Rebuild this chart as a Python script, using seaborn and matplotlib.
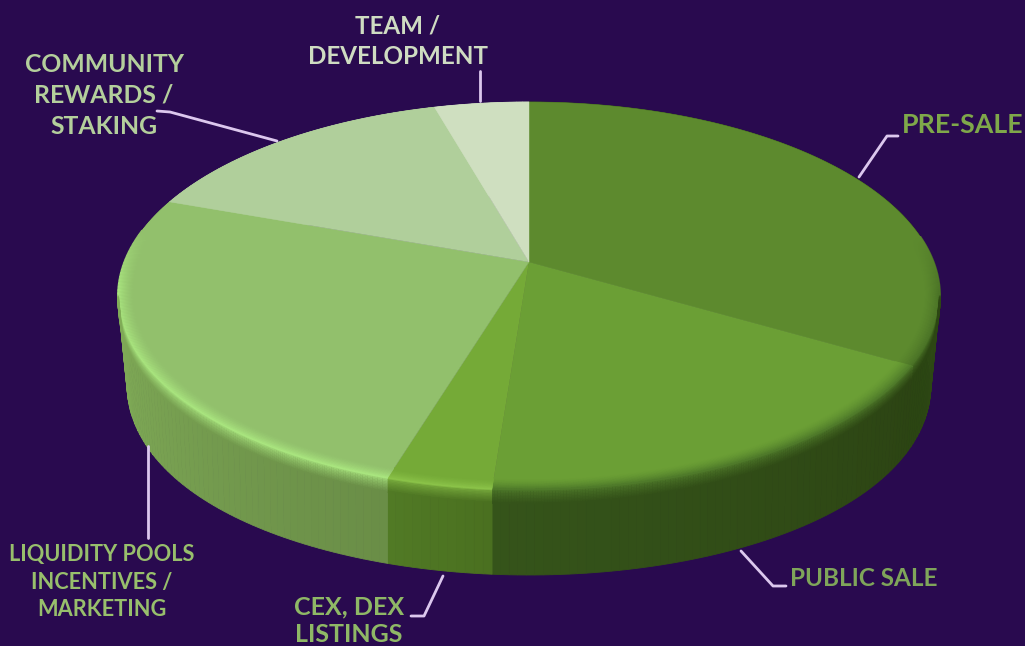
import numpy as np
import seaborn as sns
import matplotlib
matplotlib.use('Agg')
import matplotlib.pyplot as plt
from matplotlib.collections import LineCollection
from matplotlib.colors import to_rgb

# slice shares, clockwise from the top
categories = ['PRE-SALE', 'PUBLIC SALE', 'CEX, DEX LISTINGS', 'LIQUIDITY POOLS', 'COMMUNITY', 'TEAM']
shares = [33.4, 17.8, 3.5, 25.8, 15.1, 4.4]

face_colors = ['#5d8a2e', '#6b9f35', '#75aa37', '#92c06c', '#b0cf9b', '#cfdfc0']
wall_from = ['#2b4512', '#35541a', '#517a25', '#8cbb60', '#b0cf9b', '#cfdfc0']
wall_to = ['#33521a', '#2c4413', '#4a7020', '#6a8e47', '#b0cf9b', '#cfdfc0']
rim_colors = ['#4a7226', '#4f7a2a', '#8cc44a', '#a9e57f', None, None]

label_lines = [
    ['TEAM /', 'DEVELOPMENT'],
    ['COMMUNITY', 'REWARDS /', 'STAKING'],
    ['LIQUIDITY POOLS', 'INCENTIVES /', 'MARKETING'],
    ['CEX, DEX', 'LISTINGS'],
]
label_xy = [(398, [26, 56]), (104, [64, 95, 127]), (102, [554, 582, 610]), (349, [607, 635])]
label_colors = ['#cfdcc2', '#b4cf9c', '#98bf6c', '#8fb866']
label_sizes = [17.4, 17.8, 15.7, 18]

leaders = [
    [(480, 71), (480, 101)],
    [(157, 111), (170, 112), (277, 141)],
    [(859, 177), (887, 136), (898, 136)],
    [(741, 551), (773, 586), (786, 586)],
    [(443, 576), (424, 616), (411, 616)],
    [(148, 446), (148, 538)],
]

BG = '#290a4f'
K, B, A = 0.1753, 142.1, 404.6


def top_point(theta, r=1.0):
    # perspective view of the pie disc
    t = np.radians(theta)
    w = 1 + K * r * np.sin(t)
    return 529 + A * r * np.cos(t) / w, (262 - B * r * np.sin(t)) / w


def wall_point(theta, h):
    x, y = top_point(theta)
    # lower rim narrows at the sides only, slice edges stay upright at the front
    s = 1 - 0.022 * (np.abs(x - 529) / 411) ** 4
    bx = 529 + (x - 529) * s
    by = 385 + (y - 296) * 190 / 194
    return x + (bx - x) * h, y + (by - y) * h


sns.set_theme(style='white')
plt.rcParams['font.family'] = ['Lato', 'DejaVu Sans']

fig = plt.figure(figsize=(10.25, 6.46), dpi=100, facecolor=BG)
ax = fig.add_axes([0, 0, 1, 1])

wedges, _ = ax.pie(shares, startangle=90, counterclock=False, colors=face_colors)
ax.set_aspect('auto')
ax.set_xlim(0, 1025)
ax.set_ylim(646, 0)
ax.set_facecolor(BG)
ax.axis('off')

spans = []
for w in wedges:
    spans.append((w.theta1, w.theta2))
    w.set_visible(False)

# side walls, cut in narrow strips so the shade can run along the arc
for i, (t1, t2) in enumerate(spans):
    n = max(int(t2 - t1), 2)
    pal = sns.blend_palette([wall_from[i], wall_to[i]], n_colors=n)
    edges = np.linspace(t1, t2, n + 1)
    for j in range(n):
        th = np.linspace(edges[j], edges[j + 1], 4)
        xa, ya = wall_point(th, 0)
        xb, yb = wall_point(th[::-1], 1)
        ax.fill(np.r_[xa, xb], np.r_[ya, yb], color=pal[j], lw=0.6, zorder=2)

# top face
for i, (t1, t2) in enumerate(spans):
    th = np.linspace(t1, t2, 200)
    x, y = top_point(th)
    cx, cy = top_point(0, 0)
    ax.fill(np.r_[cx, x], np.r_[cy, y], color=face_colors[i], lw=0.3, zorder=3)


def add_band(x, y, cols):
    pts = np.column_stack([x, y]).reshape(-1, 1, 2)
    segs = np.concatenate([pts[:-1], pts[1:]], axis=1)
    ax.add_collection(LineCollection(segs, colors=cols, linewidths=1.4, zorder=4))


# soft bevel between face and wall, the wall part stops at the widest
# point of the disc (-170 and -10)
for i in range(4):
    lo, hi = spans[i]
    if i == 0:
        hi = 8
    if i == 3:
        lo = -190
    face = np.array(to_rgb(face_colors[i]))
    rim = np.array(to_rgb(rim_colors[i]))
    c_from = np.array(to_rgb(wall_from[i]))
    c_to = np.array(to_rgb(wall_to[i]))

    th = np.linspace(lo, hi, 200)
    fade = np.ones(len(th) - 1)
    if i == 0:
        fade = np.clip((hi - th[:-1]) / 18, 0, 1)
    if i == 3:
        fade = np.clip((th[:-1] - lo) / 18, 0, 1)
    for u in np.linspace(0, 1, 16):
        x, y = top_point(th, 0.962 + 0.038 * u)
        c = face + (rim - face) * u ** 1.5
        add_band(x, y, face + (c - face) * fade[:, None])

    wlo, whi = max(lo, -170), min(hi, -10)
    th = np.linspace(wlo, whi, 200)
    frac = np.clip((th[:-1] - spans[i][0]) / (spans[i][1] - spans[i][0]), 0, 1)
    wall = c_from + (c_to - c_from) * frac[:, None]
    fade = np.ones(len(th) - 1)
    if i == 0:
        fade = np.clip((whi - th[:-1]) / 8, 0, 1)
    if i == 3:
        fade = np.clip((th[:-1] - wlo) / 8, 0, 1)
    for u in np.linspace(0, 1, 10):
        x, y = wall_point(th, 0.16 * u)
        c = rim + (wall - rim) * u ** 0.7
        add_band(x, y, wall + (c - wall) * fade[:, None])

# leader lines
for line in leaders:
    xs, ys = zip(*line)
    ax.plot(xs, ys, color='#dcc8ee', lw=2, solid_joinstyle='round', zorder=5)

# labels
font = dict(fontweight='bold', va='center', zorder=6)
for lines, (x, ys), col, size in zip(label_lines, label_xy, label_colors, label_sizes):
    for s, y in zip(lines, ys):
        ax.text(x, y, s, ha='center', color=col, fontsize=size, **font)
ax.text(902, 125, categories[0], ha='left', color='#7fa84a', fontsize=19.3, **font)
ax.text(790, 578, categories[1], ha='left', color='#7fa55a', fontsize=17.5, **font)

fig.savefig('out.png', dpi=100, facecolor=BG)
